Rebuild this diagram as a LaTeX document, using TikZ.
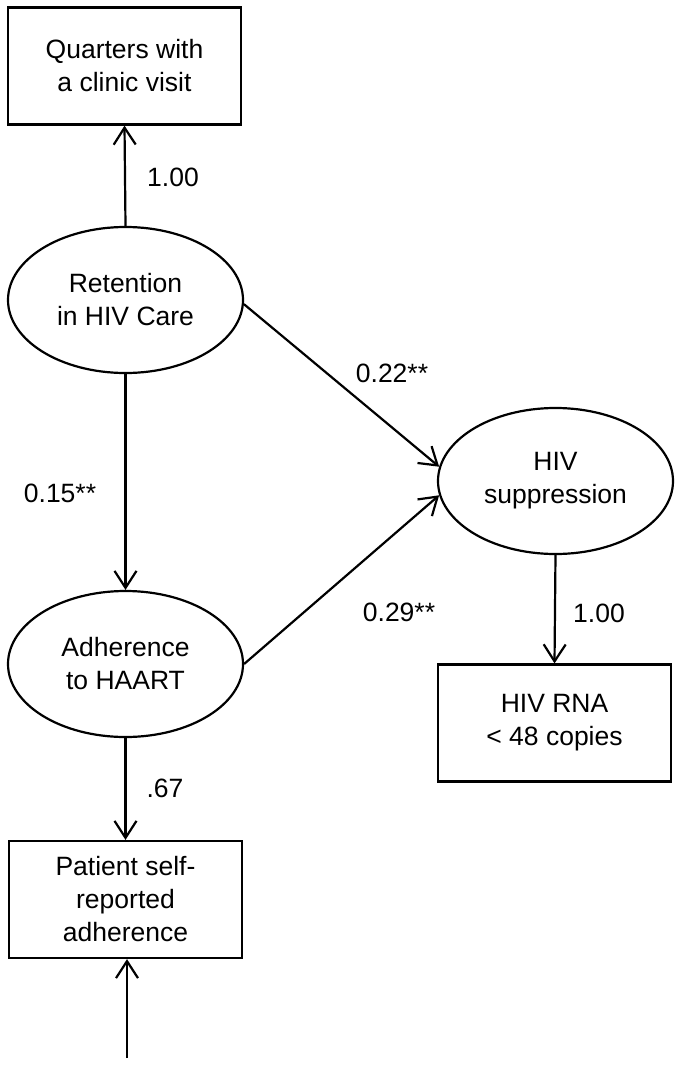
\documentclass[tikz,border=0pt]{standalone}
\usepackage{fontspec}
\setmainfont{Liberation Sans}
\usetikzlibrary{shapes.geometric,arrows.meta}
\begin{document}
\begin{tikzpicture}[x=1pt,y=-1pt,
  every node/.style={font=\fontsize{26.5}{33}\selectfont},
  obs/.style={draw,line width=2.2pt,rectangle,minimum width=233pt,minimum height=117pt,inner sep=0pt,align=center},
  lat/.style={draw,line width=2.2pt,ellipse,minimum width=235pt,minimum height=146pt,inner sep=0pt,align=center},
  lbl/.style={inner sep=0pt},
  conn/.style={line width=2.2pt,-{Straight Barb[length=17pt,width=22pt,line width=2.2pt]}}]
\useasboundingbox (0,0) rectangle (680,1068);
\node[obs] (qcv) at (124.5,66) {Quarters with\\a clinic visit};
\node[lat] (ret) at (125.5,300) {Retention\\in HIV Care};
\node[lat] (adh) at (125.5,664) {Adherence\\to HAART};
\node[lat] (sup) at (555.5,481) {HIV\\suppression};
\node[obs] (rna) at (554.5,723) {HIV RNA\\\textless{} 48 copies};
\node[obs] (psr) at (125.5,899.5) {Patient self-\\reported\\adherence};
\coordinate (err) at (127,1058);
\draw[conn] (ret.north) -- (qcv.south);
\draw[conn] (ret.south) -- (adh.north);
\draw[conn] (adh.south) -- (psr.north);
\draw[conn] (err) -- (psr.south -| err);
\draw[conn] (ret.-2) -- (sup.173);
\draw[conn] (adh.east) -- (sup.187);
\draw[conn] (sup.south) -- (rna.south |- rna.north);
\node[lbl] (l1) at (173,177) {1.00};
\node[lbl] (l2) at (60,493) {0.15**};
\node[lbl] (l3) at (392,373) {0.22**};
\node[lbl] (l4) at (399,612) {0.29**};
\node[lbl] (l5) at (599,613) {1.00};
\node[lbl] (l6) at (165,788) {.67};
\end{tikzpicture}
\end{document}
